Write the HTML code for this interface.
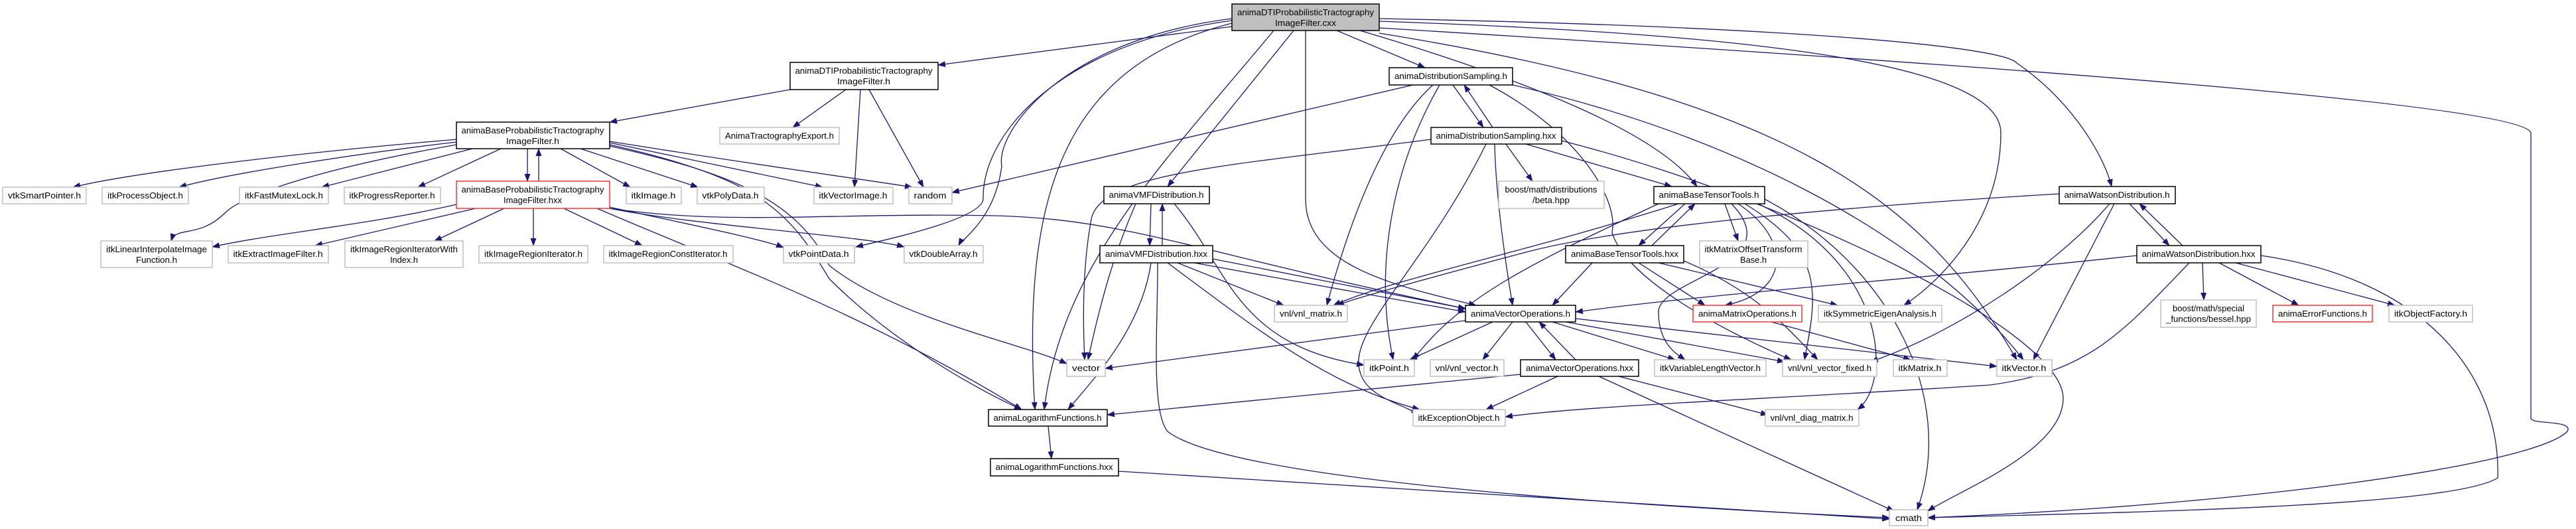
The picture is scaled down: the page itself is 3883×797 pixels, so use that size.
<!DOCTYPE html>
<html><head><meta charset="utf-8"><style>
html,body{margin:0;padding:0;background:#fff;}
svg{display:block;}
text{font-family:"Liberation Sans",sans-serif;font-size:13px;fill:#000;}
.e{fill:none;stroke:#191970;stroke-width:1.3;marker-end:url(#a);}
.k{fill:#fff;stroke:#000;stroke-width:1.5;}
.g{fill:#fff;stroke:#bfbfbf;stroke-width:1.5;}
.r{fill:#fff;stroke:#ff3333;stroke-width:1.5;}
.t{fill:#bfbfbf;stroke:#000;stroke-width:1.5;}
</style></head><body>
<svg width="3883" height="797" viewBox="0 0 3883 797" xmlns="http://www.w3.org/2000/svg">
<defs><marker id="a" markerUnits="userSpaceOnUse" markerWidth="12" markerHeight="9" refX="11" refY="4.5" orient="auto"><path d="M0,0 L12,4.5 L0,9 z" fill="#191970"/></marker></defs>
<g>
<path class="e" d="M1857,40 L1414,98"/>
<path class="e" d="M1950,46 L1760,281"/>
<path class="e" d="M1920,46 C1750,250 1600,400 1574,617"/>
<path class="e" d="M1857,35 C1600,100 1540,300 1560,617"/>
<path class="e" d="M2015,46 L2148,102"/>
<path class="e" d="M1968,46 L1968,300 C1968,400 2100,430 2225,460"/>
<path class="e" d="M2050,46 C2300,120 2500,200 2558,281"/>
<path class="e" d="M2079,28 C2700,40 3020,70 3040,95 C3120,150 3170,230 3183,281"/>
<path class="e" d="M2079,32 C2600,50 3016,90 3016,200 C3016,330 2930,420 2870,460"/>
<path class="e" d="M2079,42 C2700,80 3800,150 3815,200 L3815,630 C3815,640 3880,632 3870,650 C3820,700 3400,760 2906,780"/>
<path class="e" d="M2079,50 C2700,150 2900,300 3040,542"/>
<path class="e" d="M1857,28 C1600,60 1500,200 1510,250 C1500,330 1450,360 1445,370"/>
<path class="e" d="M1857,31 C1600,65 1480,200 1482,300 C1480,330 1340,360 1290,372"/>
<path class="e" d="M1191,135 L919,184"/>
<path class="e" d="M1275,135 L1195,192"/>
<path class="e" d="M1297,135 L1288,282"/>
<path class="e" d="M1310,135 L1392,282"/>
<path class="e" d="M688,210 C450,230 200,260 110,282"/>
<path class="e" d="M688,214 C550,230 350,260 270,282"/>
<path class="e" d="M712,224 L485,282"/>
<path class="e" d="M755,224 L630,282"/>
<path class="e" d="M795,224 L795,273"/>
<path class="e" d="M812,273 L812,224"/>
<path class="e" d="M845,224 L950,282"/>
<path class="e" d="M875,224 L1052,282"/>
<path class="e" d="M919,215 L1240,282"/>
<path class="e" d="M919,213 C1150,250 1300,270 1375,282"/>
<path class="e" d="M688,218 C450,260 360,300 340,320 C300,360 265,340 258,363"/>
<path class="e" d="M919,220 C1100,260 1200,300 1250,400 C1350,480 1550,520 1608,548"/>
<path class="e" d="M919,218 C1150,270 1190,320 1250,420 C1350,520 1480,590 1540,617"/>
<path class="e" d="M688,308 C550,340 420,350 320,372"/>
<path class="e" d="M717,314 L475,370"/>
<path class="e" d="M760,314 L655,363"/>
<path class="e" d="M804,314 L804,370"/>
<path class="e" d="M850,314 L968,370"/>
<path class="e" d="M919,312 C1000,330 1150,360 1181,373"/>
<path class="e" d="M919,314 C1050,340 1300,355 1363,372"/>
<path class="e" d="M919,314 C1100,340 1250,320 1500,325 C1700,330 1800,380 2209,465"/>
<path class="e" d="M900,314 C1100,400 1300,470 1540,617"/>
<path class="e" d="M2130,128 L1435,290"/>
<path class="e" d="M2190,128 L2236,192"/>
<path class="e" d="M2250,192 L2207,128"/>
<path class="e" d="M2170,128 C2100,250 2070,400 2100,542"/>
<path class="e" d="M2160,128 C2080,200 2030,350 2000,460"/>
<path class="e" d="M2245,128 C2380,200 2440,300 2430,350 C2450,420 2600,500 2700,542"/>
<path class="e" d="M2280,128 C2600,200 2900,350 3050,542"/>
<path class="e" d="M2157,210 C1850,250 1660,260 1645,330 C1632,400 1632,480 1635,542"/>
<path class="e" d="M2270,217 L2310,273"/>
<path class="e" d="M2300,217 L2520,281"/>
<path class="e" d="M2240,217 C2150,400 2030,500 2050,560 C2060,600 2120,610 2138,625"/>
<path class="e" d="M2253,217 C2255,300 2270,400 2280,460"/>
<path class="e" d="M2354,212 C2700,300 3110,500 3110,600 C3110,680 2950,740 2906,770"/>
<path class="e" d="M1735,307 L1733,370"/>
<path class="e" d="M1752,370 L1752,307"/>
<path class="e" d="M1712,307 C1680,380 1660,450 1640,542"/>
<path class="e" d="M1770,307 C1850,400 1860,520 2056,550"/>
<path class="e" d="M1775,396 L1935,460"/>
<path class="e" d="M1800,396 L2209,470"/>
<path class="e" d="M1828,390 L2209,465"/>
<path class="e" d="M1735,396 C1720,500 1640,580 1610,617"/>
<path class="e" d="M1760,396 C1900,500 2000,580 2140,617"/>
<path class="e" d="M1745,396 C1745,500 1735,620 1760,650 C1850,720 2400,760 2848,780"/>
<path class="e" d="M2540,307 L2470,370"/>
<path class="e" d="M2490,370 L2555,307"/>
<path class="e" d="M2600,307 L2620,363"/>
<path class="e" d="M2530,307 C2300,380 2100,420 2010,460"/>
<path class="e" d="M2500,307 C2300,400 2200,450 2130,542"/>
<path class="e" d="M2620,307 C2700,360 2700,440 2600,460"/>
<path class="e" d="M2610,307 C2700,400 2500,420 2500,470 C2500,520 2530,535 2540,542"/>
<path class="e" d="M2630,307 C2750,380 2740,440 2720,542"/>
<path class="e" d="M2650,307 C2850,400 2850,580 2800,617"/>
<path class="e" d="M2660,300 C2850,400 2950,600 2890,768"/>
<path class="e" d="M2400,396 L2340,460"/>
<path class="e" d="M2470,396 L2570,460"/>
<path class="e" d="M2500,396 L2770,460"/>
<path class="e" d="M2538,393 C2650,440 2700,500 2740,542"/>
<path class="e" d="M3210,307 L3270,370"/>
<path class="e" d="M3290,370 L3225,307"/>
<path class="e" d="M3187,307 L3065,542"/>
<path class="e" d="M3180,307 C3100,400 2950,500 2820,545"/>
<path class="e" d="M3104,292 C2800,310 2450,340 2300,380 C2150,420 2040,450 2015,460"/>
<path class="e" d="M3221,385 C2900,420 2600,440 2375,470"/>
<path class="e" d="M3320,396 L3322,452"/>
<path class="e" d="M3345,396 L3465,460"/>
<path class="e" d="M3370,396 L3610,460"/>
<path class="e" d="M3300,396 C3200,500 3150,560 3000,580 C2700,600 2400,610 2269,628"/>
<path class="e" d="M3408,385 C3650,420 3770,560 3765,720 C3700,760 3300,770 2906,780"/>
<path class="e" d="M2209,483 L1666,555"/>
<path class="e" d="M2250,485 L2125,542"/>
<path class="e" d="M2280,485 L2235,542"/>
<path class="e" d="M2300,485 L2345,542"/>
<path class="e" d="M2375,542 L2320,485"/>
<path class="e" d="M2340,485 L2525,542"/>
<path class="e" d="M2360,485 L2690,545"/>
<path class="e" d="M2375,480 L3010,552"/>
<path class="e" d="M2292,564 L1669,625"/>
<path class="e" d="M2348,567 L2240,617"/>
<path class="e" d="M2440,567 L2665,625"/>
<path class="e" d="M2410,567 L2855,770"/>
<path class="e" d="M2670,485 L2880,542"/>
<path class="e" d="M1580,642 L1585,691"/>
<path class="e" d="M1686,710 L2848,782"/>
</g>
<g>
<rect class="t" x="1857" y="6" width="222" height="40"/><text x="1968" y="23" text-anchor="middle" textLength="206" lengthAdjust="spacingAndGlyphs">animaDTIProbabilisticTractography</text><text x="1968" y="39" text-anchor="middle" textLength="92" lengthAdjust="spacingAndGlyphs">ImageFilter.cxx</text>
<rect class="k" x="1191" y="94" width="223" height="41"/><text x="1302" y="111" text-anchor="middle" textLength="207" lengthAdjust="spacingAndGlyphs">animaDTIProbabilisticTractography</text><text x="1302" y="127" text-anchor="middle" textLength="80" lengthAdjust="spacingAndGlyphs">ImageFilter.h</text>
<rect class="g" x="1085" y="192" width="180" height="25"/><text x="1175" y="209" text-anchor="middle" textLength="164" lengthAdjust="spacingAndGlyphs">AnimaTractographyExport.h</text>
<rect class="k" x="688" y="184" width="231" height="40"/><text x="803" y="201" text-anchor="middle" textLength="215" lengthAdjust="spacingAndGlyphs">animaBaseProbabilisticTractography</text><text x="803" y="217" text-anchor="middle" textLength="80" lengthAdjust="spacingAndGlyphs">ImageFilter.h</text>
<rect class="g" x="4" y="282" width="126" height="25"/><text x="67" y="299" text-anchor="middle" textLength="110" lengthAdjust="spacingAndGlyphs">vtkSmartPointer.h</text>
<rect class="g" x="154" y="282" width="130" height="25"/><text x="219" y="299" text-anchor="middle" textLength="114" lengthAdjust="spacingAndGlyphs">itkProcessObject.h</text>
<rect class="g" x="361" y="282" width="134" height="25"/><text x="428" y="299" text-anchor="middle" textLength="118" lengthAdjust="spacingAndGlyphs">itkFastMutexLock.h</text>
<rect class="g" x="519" y="282" width="145" height="25"/><text x="591" y="299" text-anchor="middle" textLength="129" lengthAdjust="spacingAndGlyphs">itkProgressReporter.h</text>
<rect class="r" x="688" y="273" width="231" height="41"/><text x="803" y="290" text-anchor="middle" textLength="215" lengthAdjust="spacingAndGlyphs">animaBaseProbabilisticTractography</text><text x="803" y="306" text-anchor="middle" textLength="88" lengthAdjust="spacingAndGlyphs">ImageFilter.hxx</text>
<rect class="g" x="944" y="282" width="83" height="25"/><text x="985" y="299" text-anchor="middle" textLength="67" lengthAdjust="spacingAndGlyphs">itkImage.h</text>
<rect class="g" x="1051" y="282" width="101" height="25"/><text x="1101" y="299" text-anchor="middle" textLength="85" lengthAdjust="spacingAndGlyphs">vtkPolyData.h</text>
<rect class="g" x="1227" y="282" width="119" height="25"/><text x="1286" y="299" text-anchor="middle" textLength="103" lengthAdjust="spacingAndGlyphs">itkVectorImage.h</text>
<rect class="g" x="1370" y="282" width="65" height="25"/><text x="1402" y="299" text-anchor="middle" textLength="49" lengthAdjust="spacingAndGlyphs">random</text>
<rect class="g" x="152" y="363" width="168" height="40"/><text x="236" y="380" text-anchor="middle" textLength="152" lengthAdjust="spacingAndGlyphs">itkLinearInterpolateImage</text><text x="236" y="396" text-anchor="middle" textLength="62" lengthAdjust="spacingAndGlyphs">Function.h</text>
<rect class="g" x="344" y="370" width="151" height="26"/><text x="419" y="387" text-anchor="middle" textLength="135" lengthAdjust="spacingAndGlyphs">itkExtractImageFilter.h</text>
<rect class="g" x="520" y="363" width="178" height="40"/><text x="609" y="380" text-anchor="middle" textLength="162" lengthAdjust="spacingAndGlyphs">itkImageRegionIteratorWith</text><text x="609" y="396" text-anchor="middle" textLength="42" lengthAdjust="spacingAndGlyphs">Index.h</text>
<rect class="g" x="722" y="370" width="164" height="26"/><text x="804" y="387" text-anchor="middle" textLength="148" lengthAdjust="spacingAndGlyphs">itkImageRegionIterator.h</text>
<rect class="g" x="910" y="370" width="195" height="26"/><text x="1007" y="387" text-anchor="middle" textLength="179" lengthAdjust="spacingAndGlyphs">itkImageRegionConstIterator.h</text>
<rect class="g" x="1181" y="370" width="107" height="26"/><text x="1234" y="387" text-anchor="middle" textLength="91" lengthAdjust="spacingAndGlyphs">vtkPointData.h</text>
<rect class="g" x="1363" y="370" width="119" height="26"/><text x="1422" y="387" text-anchor="middle" textLength="103" lengthAdjust="spacingAndGlyphs">vtkDoubleArray.h</text>
<rect class="k" x="2094" y="102" width="186" height="26"/><text x="2187" y="119" text-anchor="middle" textLength="170" lengthAdjust="spacingAndGlyphs">animaDistributionSampling.h</text>
<rect class="k" x="2157" y="192" width="197" height="25"/><text x="2255" y="209" text-anchor="middle" textLength="181" lengthAdjust="spacingAndGlyphs">animaDistributionSampling.hxx</text>
<rect class="k" x="1664" y="281" width="159" height="26"/><text x="1743" y="298" text-anchor="middle" textLength="143" lengthAdjust="spacingAndGlyphs">animaVMFDistribution.h</text>
<rect class="g" x="2259" y="273" width="159" height="41"/><text x="2338" y="290" text-anchor="middle" textLength="139" lengthAdjust="spacingAndGlyphs">boost/math/distributions</text><text x="2338" y="306" text-anchor="middle" textLength="56" lengthAdjust="spacingAndGlyphs">/beta.hpp</text>
<rect class="k" x="2493" y="281" width="167" height="26"/><text x="2576" y="298" text-anchor="middle" textLength="151" lengthAdjust="spacingAndGlyphs">animaBaseTensorTools.h</text>
<rect class="k" x="1658" y="370" width="170" height="26"/><text x="1743" y="387" text-anchor="middle" textLength="154" lengthAdjust="spacingAndGlyphs">animaVMFDistribution.hxx</text>
<rect class="k" x="2360" y="370" width="178" height="26"/><text x="2449" y="387" text-anchor="middle" textLength="162" lengthAdjust="spacingAndGlyphs">animaBaseTensorTools.hxx</text>
<rect class="g" x="2562" y="363" width="163" height="40"/><text x="2643" y="380" text-anchor="middle" textLength="147" lengthAdjust="spacingAndGlyphs">itkMatrixOffsetTransform</text><text x="2643" y="396" text-anchor="middle" textLength="40" lengthAdjust="spacingAndGlyphs">Base.h</text>
<rect class="k" x="3104" y="281" width="175" height="26"/><text x="3191" y="298" text-anchor="middle" textLength="159" lengthAdjust="spacingAndGlyphs">animaWatsonDistribution.h</text>
<rect class="k" x="3221" y="370" width="187" height="26"/><text x="3314" y="387" text-anchor="middle" textLength="171" lengthAdjust="spacingAndGlyphs">animaWatsonDistribution.hxx</text>
<rect class="g" x="1921" y="460" width="110" height="25"/><text x="1976" y="477" text-anchor="middle" textLength="94" lengthAdjust="spacingAndGlyphs">vnl/vnl_matrix.h</text>
<rect class="k" x="2209" y="460" width="166" height="25"/><text x="2292" y="477" text-anchor="middle" textLength="150" lengthAdjust="spacingAndGlyphs">animaVectorOperations.h</text>
<rect class="r" x="2552" y="460" width="164" height="25"/><text x="2634" y="477" text-anchor="middle" textLength="148" lengthAdjust="spacingAndGlyphs">animaMatrixOperations.h</text>
<rect class="g" x="2741" y="460" width="186" height="25"/><text x="2834" y="477" text-anchor="middle" textLength="170" lengthAdjust="spacingAndGlyphs">itkSymmetricEigenAnalysis.h</text>
<rect class="g" x="3257" y="452" width="144" height="41"/><text x="3329" y="469" text-anchor="middle" textLength="108" lengthAdjust="spacingAndGlyphs">boost/math/special</text><text x="3329" y="485" text-anchor="middle" textLength="128" lengthAdjust="spacingAndGlyphs">_functions/bessel.hpp</text>
<rect class="r" x="3426" y="460" width="150" height="25"/><text x="3501" y="477" text-anchor="middle" textLength="134" lengthAdjust="spacingAndGlyphs">animaErrorFunctions.h</text>
<rect class="g" x="3601" y="460" width="126" height="25"/><text x="3664" y="477" text-anchor="middle" textLength="110" lengthAdjust="spacingAndGlyphs">itkObjectFactory.h</text>
<rect class="g" x="1608" y="542" width="58" height="25"/><text x="1637" y="559" text-anchor="middle" textLength="42" lengthAdjust="spacingAndGlyphs">vector</text>
<rect class="g" x="2056" y="542" width="76" height="25"/><text x="2094" y="559" text-anchor="middle" textLength="60" lengthAdjust="spacingAndGlyphs">itkPoint.h</text>
<rect class="g" x="2156" y="542" width="111" height="25"/><text x="2211" y="559" text-anchor="middle" textLength="95" lengthAdjust="spacingAndGlyphs">vnl/vnl_vector.h</text>
<rect class="k" x="2292" y="542" width="178" height="25"/><text x="2381" y="559" text-anchor="middle" textLength="162" lengthAdjust="spacingAndGlyphs">animaVectorOperations.hxx</text>
<rect class="g" x="2494" y="542" width="168" height="25"/><text x="2578" y="559" text-anchor="middle" textLength="152" lengthAdjust="spacingAndGlyphs">itkVariableLengthVector.h</text>
<rect class="g" x="2687" y="542" width="142" height="25"/><text x="2758" y="559" text-anchor="middle" textLength="126" lengthAdjust="spacingAndGlyphs">vnl/vnl_vector_fixed.h</text>
<rect class="g" x="2854" y="542" width="81" height="25"/><text x="2894" y="559" text-anchor="middle" textLength="65" lengthAdjust="spacingAndGlyphs">itkMatrix.h</text>
<rect class="g" x="3010" y="542" width="83" height="25"/><text x="3051" y="559" text-anchor="middle" textLength="67" lengthAdjust="spacingAndGlyphs">itkVector.h</text>
<rect class="k" x="1490" y="617" width="179" height="25"/><text x="1579" y="634" text-anchor="middle" textLength="163" lengthAdjust="spacingAndGlyphs">animaLogarithmFunctions.h</text>
<rect class="g" x="2130" y="617" width="139" height="25"/><text x="2199" y="634" text-anchor="middle" textLength="123" lengthAdjust="spacingAndGlyphs">itkExceptionObject.h</text>
<rect class="g" x="2661" y="617" width="141" height="25"/><text x="2731" y="634" text-anchor="middle" textLength="125" lengthAdjust="spacingAndGlyphs">vnl/vnl_diag_matrix.h</text>
<rect class="k" x="1493" y="691" width="193" height="26"/><text x="1589" y="708" text-anchor="middle" textLength="177" lengthAdjust="spacingAndGlyphs">animaLogarithmFunctions.hxx</text>
<rect class="g" x="2848" y="768" width="58" height="24"/><text x="2877" y="785" text-anchor="middle" textLength="40" lengthAdjust="spacingAndGlyphs">cmath</text>
</g>
</svg>
</body></html>
